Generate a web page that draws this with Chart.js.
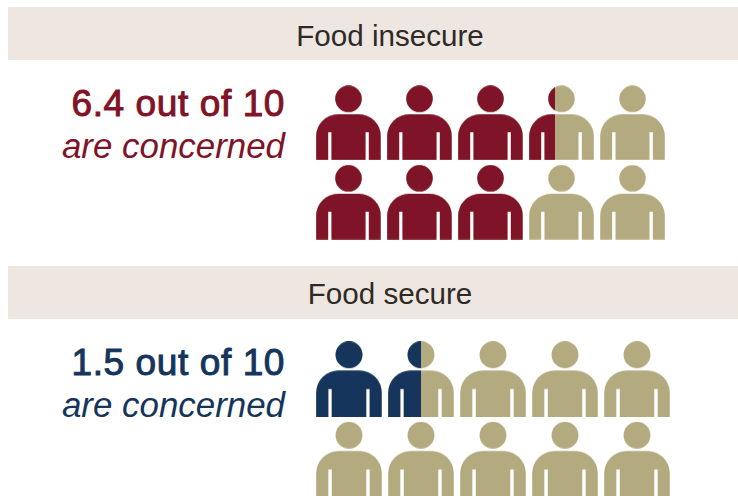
<!DOCTYPE html>
<html>
<head>
<meta charset="utf-8">
<title>Food security and concern</title>
<script src="https://cdn.jsdelivr.net/npm/chart.js@4/dist/chart.umd.min.js"></script>
<style>
  html, body { margin: 0; padding: 0; background: #fff; }
  body { position: relative; width: 738px; height: 496px; overflow: hidden; font-family: "Liberation Sans", Arial, sans-serif; }
  .banner { position: absolute; left: 8px; width: 730px; height: 53px; background: #eee6e0; color: #2f2a26; font-size: 29.6px; line-height: 58px; }
  .banner span { position: absolute; left: 0; width: 764px; text-align: center; }
  .big, .small { position: absolute; left: 0; width: 285px; text-align: right; white-space: nowrap; }
  .big { font-size: 37px; letter-spacing: 0.6px; -webkit-text-stroke: 1px currentColor; line-height: 40px; }
  .small { font-size: 34.9px; font-style: italic; line-height: 40px; }
  canvas { position: absolute; }
</style>
</head>
<body>
<script>
const groups = ["Food insecure", "Food secure"];
const concerned = [6.4, 1.5];
const outOf = 10;
const caption = "are concerned";

// how much of each person is coloured, left to right, top row first
const insecureShares = [1, 1, 1, 0.4, 0, 1, 1, 1, 0, 0];
const secureShares = [1, 0.5, 0, 0, 0, 0, 0, 0, 0, 0];

const columns = [0, 1, 2, 3, 4];
const rows = [0, 1];
const restColor = "#b4aa7f";

// one person as a bitmap, split in two colours at the given share
function personIcon(share, color, w, h) {
  let cv = document.createElement("canvas");
  cv.width = Math.ceil(w);
  cv.height = Math.ceil(h);
  let c = cv.getContext("2d");
  let ox = (cv.width - w) / 2;
  let oy = (cv.height - h) / 2;

  let headR = w * 0.205;
  let top = h * 0.385;
  let corner = w * 0.34;
  let slitL = w * 0.185;
  let slitW = w * 0.052;
  let slitTop = h * 0.628;

  let p = new Path2D();
  p.arc(ox + w / 2, oy + headR, headR, 0, Math.PI * 2);
  p.closePath();
  p.moveTo(ox, oy + h);
  p.lineTo(ox, oy + top + corner);
  p.arcTo(ox, oy + top, ox + corner, oy + top, corner);
  p.lineTo(ox + w - corner, oy + top);
  p.arcTo(ox + w, oy + top, ox + w, oy + top + corner, corner);
  p.lineTo(ox + w, oy + h);
  p.lineTo(ox + w - slitL, oy + h);
  p.lineTo(ox + w - slitL, oy + slitTop);
  p.lineTo(ox + w - slitL - slitW, oy + slitTop);
  p.lineTo(ox + w - slitL - slitW, oy + h);
  p.lineTo(ox + slitL + slitW, oy + h);
  p.lineTo(ox + slitL + slitW, oy + slitTop);
  p.lineTo(ox + slitL, oy + slitTop);
  p.lineTo(ox + slitL, oy + h);
  p.closePath();

  c.fillStyle = restColor;
  c.fill(p);
  if (share > 0) {
    c.save();
    c.beginPath();
    c.rect(0, 0, ox + w * share, cv.height);
    c.clip();
    c.fillStyle = color;
    c.fill(p);
    c.restore();
  }
  return cv;
}

function addPanel(i, shares, color, pos) {
  let banner = document.createElement("div");
  banner.className = "banner";
  banner.style.top = pos.bannerTop + "px";
  banner.style.lineHeight = pos.bannerLine + "px";
  banner.innerHTML = "<span>" + groups[i] + "</span>";
  document.body.appendChild(banner);

  let big = document.createElement("div");
  big.className = "big";
  big.style.top = pos.bigTop + "px";
  big.style.color = color;
  big.textContent = concerned[i] + " out of " + outOf;
  document.body.appendChild(big);

  let small = document.createElement("div");
  small.className = "small";
  small.style.top = pos.bigTop + 42 + "px";
  small.style.color = color;
  small.textContent = caption;
  document.body.appendChild(small);

  let canvas = document.createElement("canvas");
  canvas.style.left = pos.left + "px";
  canvas.style.top = pos.top + "px";
  canvas.width = pos.width;
  canvas.height = pos.height;
  document.body.appendChild(canvas);

  let points = [];
  rows.forEach(r => columns.forEach(k => points.push({ x: k, y: r })));
  let icons = shares.map(s => personIcon(s, color, pos.iconW, pos.iconH));

  new Chart(canvas.getContext("2d"), {
    type: "scatter",
    data: {
      datasets: [{
        label: groups[i],
        data: points,
        clip: false,
        pointStyle: ctx => icons[ctx.dataIndex],
        pointRadius: 30
      }]
    },
    options: {
      responsive: false,
      animation: false,
      layout: { padding: 0, autoPadding: false },
      plugins: { legend: { display: false }, tooltip: { enabled: false } },
      scales: {
        x: { display: false, min: -0.5, max: 4.5 },
        y: { display: false, min: -0.5, max: 1.5, reverse: true }
      }
    }
  });
}

addPanel(0, insecureShares, "#7f1428", {
  bannerTop: 7, bannerLine: 58, bigTop: 84, left: 313, top: 83, width: 355, height: 159, iconW: 64.6, iconH: 74.3
});
addPanel(1, secureShares, "#15355c", {
  bannerTop: 266, bannerLine: 56, bigTop: 343, left: 313, top: 339, width: 360, height: 161, iconW: 65.6, iconH: 75.8
});
</script>
</body>
</html>
